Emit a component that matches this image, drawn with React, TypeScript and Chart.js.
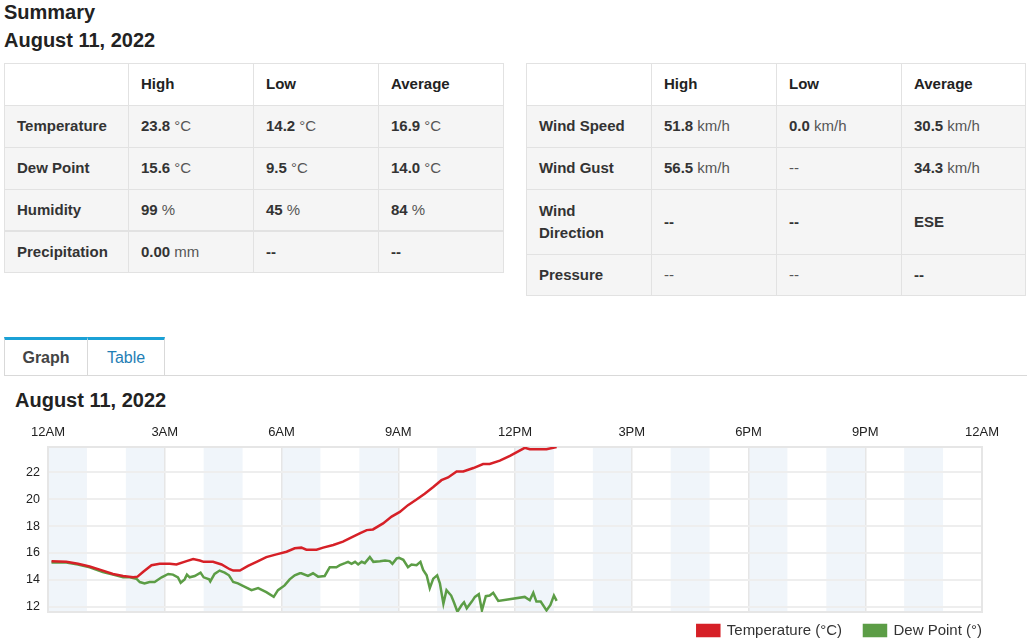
import React, { useEffect, useRef } from "react";
import { Chart, registerables } from "chart.js";

Chart.register(...registerables);

const FONT = '"Liberation Sans", Arial, Helvetica, sans-serif';

// ---------- chart data ----------
const hourTickLabels = ["12AM", "3AM", "6AM", "9AM", "12PM", "3PM", "6PM", "9PM", "12AM"];
const shadedHourStarts = [0, 2, 4, 6, 8, 10, 12, 14, 16, 18, 20, 22];

const tempHours = [
  0.09, 0.47, 0.77, 1.07, 1.41, 1.67, 1.93, 2.19, 2.3, 2.44, 2.66, 2.87, 3.13, 3.3, 3.56, 3.73,
  3.9, 4.0, 4.24, 4.46, 4.67, 4.76, 4.93, 5.14, 5.36, 5.61, 5.87, 6.13, 6.34, 6.51, 6.64, 6.9,
  7.07, 7.33, 7.58, 7.76, 8.01, 8.19, 8.35, 8.61, 8.83, 9.04, 9.25, 9.46, 9.68, 9.9, 10.11,
  10.28, 10.5, 10.67, 10.93, 11.18, 11.35, 11.61, 11.87, 12.25, 12.38, 12.81, 13.07,
];
const tempValues = [
  15.4, 15.35, 15.2, 15.0, 14.7, 14.45, 14.3, 14.2, 14.25, 14.6, 15.1, 15.2, 15.2, 15.15, 15.4,
  15.55, 15.45, 15.35, 15.35, 15.15, 14.8, 14.7, 14.7, 15.05, 15.35, 15.7, 15.9, 16.1, 16.35,
  16.4, 16.25, 16.25, 16.4, 16.6, 16.85, 17.1, 17.45, 17.7, 17.75, 18.2, 18.7, 19.05, 19.55,
  19.95, 20.4, 20.9, 21.4, 21.6, 22.05, 22.05, 22.3, 22.6, 22.6, 22.85, 23.2, 23.8, 23.7, 23.7,
  23.85,
];

const dewHours = [
  0.09, 0.47, 0.77, 1.07, 1.41, 1.67, 1.93, 2.1, 2.27, 2.36, 2.48, 2.61, 2.74, 2.92, 3.09, 3.21,
  3.34, 3.41, 3.51, 3.57, 3.64, 3.77, 3.92, 4.0, 4.14, 4.17, 4.28, 4.41, 4.54, 4.65, 4.76, 4.88,
  5.06, 5.23, 5.4, 5.61, 5.8, 5.91, 6.08, 6.21, 6.34, 6.47, 6.51, 6.68, 6.81, 6.94, 7.11, 7.24,
  7.41, 7.5, 7.63, 7.71, 7.8, 7.89, 7.97, 8.06, 8.14, 8.27, 8.36, 8.53, 8.66, 8.78, 8.85, 8.96,
  9.02, 9.13, 9.25, 9.34, 9.47, 9.57, 9.64, 9.73, 9.81, 9.9, 10.0, 10.07, 10.16, 10.24, 10.36,
  10.43, 10.52, 10.63, 10.69, 10.76, 10.89, 10.97, 11.07, 11.15, 11.25, 11.35, 11.44, 11.57,
  12.25, 12.38, 12.47, 12.55, 12.66, 12.81, 12.91, 13.0, 13.07,
];
const dewValues = [
  15.3, 15.3, 15.15, 14.95, 14.6, 14.4, 14.2, 14.2, 14.1, 13.85, 13.75, 13.85, 13.85, 14.2, 14.45,
  14.4, 14.2, 13.8, 14.05, 14.4, 14.2, 14.3, 14.55, 14.2, 14.05, 13.9, 14.45, 14.7, 14.55, 14.35,
  13.85, 13.75, 13.5, 13.25, 13.4, 13.1, 12.75, 13.25, 13.6, 14.05, 14.35, 14.5, 14.5, 14.3, 14.5,
  14.25, 14.3, 14.95, 14.95, 15.1, 15.25, 15.35, 15.2, 15.35, 15.15, 15.35, 15.25, 15.7, 15.35,
  15.4, 15.45, 15.4, 15.2, 15.6, 15.65, 15.5, 14.95, 15.15, 15.1, 15.35, 14.75, 14.35, 13.4, 14.1,
  14.35, 13.75, 12.25, 13.25, 12.85, 12.35, 11.65, 12.15, 12.35, 11.9, 12.4, 12.75, 12.95, 11.75,
  12.8, 12.85, 13.05, 12.45, 12.75, 12.5, 13.05, 12.4, 12.4, 11.75, 12.15, 12.85, 12.45,
];

const seriesNames = ["Temperature (°C)", "Dew Point (°)"];
const seriesColors = ["rgb(214,32,39)", "rgb(92,157,70)"];

// ---------- table data ----------
const tableHeaders = ["", "High", "Low", "Average"];
const leftLabels = ["Temperature", "Dew Point", "Humidity", "Precipitation"];
const leftHigh = [["23.8", "°C"], ["15.6", "°C"], ["99", "%"], ["0.00", "mm"]];
const leftLow = [["14.2", "°C"], ["9.5", "°C"], ["45", "%"], ["--", ""]];
const leftAvg = [["16.9", "°C"], ["14.0", "°C"], ["84", "%"], ["--", ""]];

const rightLabels = ["Wind Speed", "Wind Gust", "Wind Direction", "Pressure"];
const rightHigh = [["51.8", "km/h"], ["56.5", "km/h"], ["--", ""], ["", "--"]];
const rightLow = [["0.0", "km/h"], ["", "--"], ["--", ""], ["", "--"]];
const rightAvg = [["30.5", "km/h"], ["34.3", "km/h"], ["ESE", ""], ["--", ""]];

const leftRowHeights = [42, 42, 42, 42, 41];
const rightRowHeights = [42, 42, 42, 65, 41];

const TEXT = "#333";

function ValueCell({ cell }: { cell: string[] }) {
  const [v, u] = cell;
  return (
    <span>
      {v ? <b style={{ color: TEXT }}>{v}</b> : null}
      {u ? <span style={{ color: "#555" }}>{(v ? " " : "") + u}</span> : null}
    </span>
  );
}

function SummaryTable(props: {
  left: number;
  labels: string[];
  high: string[][];
  low: string[][];
  avg: string[][];
  colWidths: number[];
  rowHeights: number[];
  thickBeforeLast?: boolean;
}) {
  const { left, labels, high, low, avg, colWidths, rowHeights, thickBeforeLast } = props;
  const border = "1px solid #e2e2e2";
  const rows: React.ReactNode[] = [];
  const cellStyle = (ci: number, h: number, bg: string, bottom: string): React.CSSProperties => ({
    width: colWidths[ci],
    height: h,
    boxSizing: "border-box",
    borderRight: border,
    borderBottom: bottom,
    background: bg,
    display: "flex",
    alignItems: "center",
    padding: "0 12px",
    lineHeight: "22.5px",
  });
  rows.push(
    <div key="h" style={{ display: "flex" }}>
      {tableHeaders.map((t, ci) => (
        <div key={ci} style={cellStyle(ci, rowHeights[0], "#fff", border)}>
          <b style={{ color: "#222" }}>{t}</b>
        </div>
      ))}
    </div>
  );
  labels.forEach((lab, ri) => {
    const h = rowHeights[ri + 1];
    const bottom = thickBeforeLast && ri === labels.length - 2 ? "2px solid #e2e2e2" : border;
    const vals = [high[ri], low[ri], avg[ri]];
    rows.push(
      <div key={ri} style={{ display: "flex" }}>
        <div style={cellStyle(0, h, "#f5f5f5", bottom)}>
          <b style={{ color: TEXT }}>{lab}</b>
        </div>
        {vals.map((c, k) => (
          <div key={k} style={cellStyle(k + 1, h, "#f5f5f5", bottom)}>
            <ValueCell cell={c} />
          </div>
        ))}
      </div>
    );
  });
  return (
    <div
      style={{
        position: "absolute",
        left,
        top: 63,
        borderTop: border,
        borderLeft: border,
        fontSize: 15,
      }}
    >
      {rows}
    </div>
  );
}

function WeatherChart() {
  const ref = useRef<HTMLCanvasElement | null>(null);
  useEffect(() => {
    if (!ref.current) return;
    Chart.defaults.font.family = FONT;
    const plugin = {
      id: "hourBands",
      beforeDraw(chart: any) {
        const { ctx, chartArea, scales } = chart;
        const x = scales.x;
        ctx.save();
        ctx.fillStyle = "#f0f5fa";
        for (const h of shadedHourStarts) {
          const x0 = x.getPixelForValue(h);
          const x1 = x.getPixelForValue(h + 1);
          ctx.fillRect(x0, chartArea.top, x1 - x0, chartArea.bottom - chartArea.top);
        }
        ctx.restore();
      },
      beforeDatasetsDraw(chart: any) {
        const { ctx, chartArea } = chart;
        ctx.save();
        ctx.strokeStyle = "#e6e6e6";
        ctx.lineWidth = 2;
        ctx.strokeRect(chartArea.left, chartArea.top, chartArea.right - chartArea.left, chartArea.bottom - chartArea.top);
        ctx.restore();
      },
      afterLayout(chart: any) {
        const lg = chart.legend;
        if (lg) {
          lg.top -= 11;
          lg.bottom -= 11;
          lg.left += 22;
          lg.right += 22;
        }
      },
    };
    const chart = new Chart(ref.current, {
      type: "line",
      data: {
        datasets: [
          {
            label: seriesNames[0],
            data: tempHours.map((h, i) => ({ x: h, y: tempValues[i] })),
            borderColor: seriesColors[0],
            backgroundColor: seriesColors[0],
            borderWidth: 2.5,
            pointRadius: 0,
            tension: 0,
          },
          {
            label: seriesNames[1],
            data: dewHours.map((h, i) => ({ x: h, y: dewValues[i] })),
            borderColor: seriesColors[1],
            backgroundColor: seriesColors[1],
            borderWidth: 2.5,
            pointRadius: 0,
            tension: 0,
          },
        ],
      },
      options: {
        animation: false,
        responsive: true,
        maintainAspectRatio: false,
        layout: { padding: { left: 0, right: 45, top: 0, bottom: 0 } },
        scales: {
          x: {
            type: "linear",
            position: "top",
            min: 0,
            max: 24,
            ticks: {
              stepSize: 3,
              autoSkip: false,
              maxRotation: 0,
              padding: 7,
              color: "#222",
              font: { size: 13 },
              callback: (v: any) => hourTickLabels[Math.round(Number(v) / 3)],
            },
            grid: { color: "#e6e6e6", lineWidth: 1.5, drawTicks: false },
            border: { display: false },
            afterFit: (s: any) => {
              s.height = 32;
            },
          },
          y: {
            min: 11.63,
            max: 23.86,
            ticks: {
              stepSize: 2,
              includeBounds: false,
              padding: 8,
              color: "#222",
              font: { size: 12.5 },
            },
            grid: { color: "#eeeeee", lineWidth: 2, drawTicks: false },
            border: { display: false },
            afterFit: (s: any) => {
              s.width = 48;
            },
          },
        },
        plugins: {
          legend: {
            position: "bottom",
            align: "end",
            labels: {
              boxWidth: 22,
              boxHeight: 11,
              padding: 22,
              color: "#333",
              font: { size: 15 },
            },
          },
          tooltip: { enabled: false },
        },
      },
      plugins: [plugin],
    } as any);
    return () => chart.destroy();
  }, []);
  return (
    <div style={{ position: "absolute", left: 0, top: 415, width: 1027, height: 244 }}>
      <canvas ref={ref} />
    </div>
  );
}

export default function App() {
  return (
    <div
      style={{
        position: "absolute",
        left: 0,
        top: 0,
        width: 1027,
        height: 640,
        overflow: "hidden",
        background: "#fff",
        fontFamily: FONT,
        color: TEXT,
      }}
    >
      <div style={{ position: "absolute", left: 4, top: -2, fontSize: 20, fontWeight: "bold", lineHeight: "28px", color: "#222" }}>
        Summary
        <br />
        August 11, 2022
      </div>
      <SummaryTable
        left={4}
        labels={leftLabels}
        high={leftHigh}
        low={leftLow}
        avg={leftAvg}
        colWidths={[124, 125, 125, 125]}
        rowHeights={leftRowHeights}
        thickBeforeLast
      />
      <SummaryTable
        left={526}
        labels={rightLabels}
        high={rightHigh}
        low={rightLow}
        avg={rightAvg}
        colWidths={[125, 125, 125, 124]}
        rowHeights={rightRowHeights}
      />
      {/* tabs */}
      <div style={{ position: "absolute", left: 4, top: 375, width: 1023, height: 1, background: "#d9d9d9" }} />
      <div
        style={{
          position: "absolute",
          left: 4,
          top: 337,
          width: 84,
          height: 38,
          boxSizing: "border-box",
          borderTop: "3px solid #1ba1d6",
          borderLeft: "1px solid #d9d9d9",
          borderRight: "1px solid #d9d9d9",
          display: "flex",
          alignItems: "center",
          justifyContent: "center",
          fontSize: 16,
          fontWeight: "bold",
          color: "#444",
        }}
      >
        Graph
      </div>
      <div
        style={{
          position: "absolute",
          left: 88,
          top: 337,
          width: 77,
          height: 38,
          boxSizing: "border-box",
          borderTop: "3px solid #1ba1d6",
          borderRight: "1px solid #d9d9d9",
          display: "flex",
          alignItems: "center",
          justifyContent: "center",
          fontSize: 16,
          color: "#1f7eb5",
        }}
      >
        Table
      </div>
      <div style={{ position: "absolute", left: 15, top: 389, fontSize: 20, fontWeight: "bold", lineHeight: "23px", color: "#222" }}>
        August 11, 2022
      </div>
      <WeatherChart />
    </div>
  );
}
